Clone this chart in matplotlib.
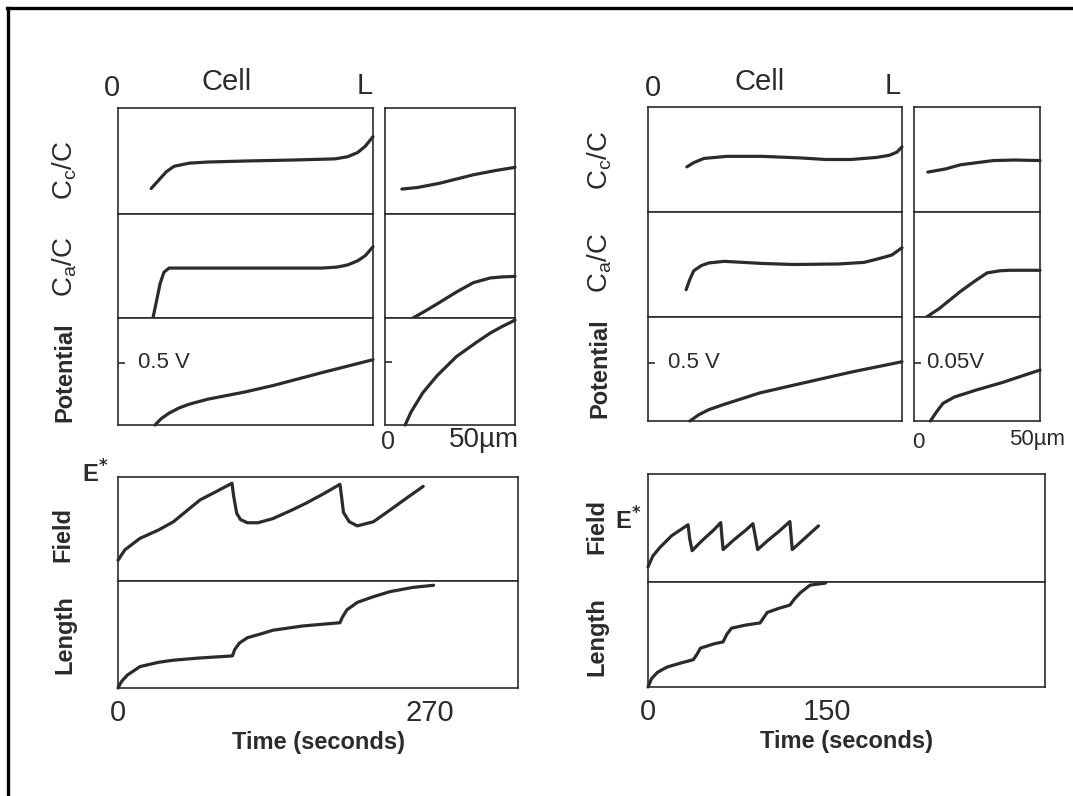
import matplotlib
matplotlib.use("Agg")
import matplotlib.pyplot as plt
from matplotlib.lines import Line2D

plt.rcParams['font.family'] = ['Liberation Sans', 'DejaVu Sans']

W, H = 1073, 796
INK = '#2b2b2b'

# ---- concentration / potential profiles across the cell (x = position / L) ----
cc_left_x = [0.13, 0.16, 0.19, 0.22, 0.28, 0.35, 0.5, 0.7, 0.85, 0.9, 0.94, 0.97, 1.0]
cc_left_y = [0.24, 0.32, 0.40, 0.45, 0.48, 0.49, 0.50, 0.51, 0.52, 0.54, 0.58, 0.64, 0.73]
ca_left_x = [0.137, 0.15, 0.165, 0.18, 0.2, 0.25, 0.5, 0.8, 0.86, 0.9, 0.94, 0.97, 1.0]
ca_left_y = [0.0, 0.15, 0.33, 0.44, 0.48, 0.48, 0.48, 0.48, 0.49, 0.51, 0.55, 0.6, 0.685]
pot_left_x = [0.145, 0.17, 0.2, 0.24, 0.28, 0.35, 0.5, 0.61, 0.8, 1.0]
pot_left_v = [0, 0.052, 0.095, 0.138, 0.168, 0.207, 0.267, 0.319, 0.422, 0.526]

cc_right_x = [0.153, 0.18, 0.22, 0.31, 0.45, 0.6, 0.7, 0.8, 0.9, 0.95, 0.98, 1.0]
cc_right_y = [0.43, 0.47, 0.51, 0.53, 0.53, 0.515, 0.50, 0.50, 0.52, 0.54, 0.57, 0.62]
ca_right_x = [0.15, 0.165, 0.18, 0.21, 0.24, 0.3, 0.45, 0.57, 0.75, 0.85, 0.9, 0.96, 1.0]
ca_right_y = [0.26, 0.36, 0.44, 0.49, 0.515, 0.53, 0.51, 0.50, 0.505, 0.52, 0.55, 0.59, 0.66]
pot_right_x = [0.165, 0.2, 0.24, 0.3, 0.44, 0.6, 0.8, 1.0]
pot_right_v = [0, 0.054, 0.098, 0.143, 0.241, 0.321, 0.42, 0.509]

# ---- zoom near the tip (x in micrometres) ----
cc_sl_x = [6.5, 12.5, 21, 27.5, 34, 42.5, 50]
cc_sl_y = [0.235, 0.25, 0.29, 0.33, 0.37, 0.41, 0.44]
ca_sl_x = [10.75, 15, 21, 27.5, 34, 40.5, 45, 50]
ca_sl_y = [0, 0.06, 0.15, 0.25, 0.34, 0.385, 0.395, 0.4]
pot_sl_x = [7.75, 10, 14.5, 20, 27.5, 35, 40.5, 45, 50]
pot_sl_v = [0, 0.0102, 0.0254, 0.039, 0.0542, 0.0652, 0.0728, 0.0779, 0.083]

cc_sr_x = [5.5, 12.5, 18.5, 25, 31.5, 40, 50]
cc_sr_y = [0.38, 0.41, 0.45, 0.47, 0.49, 0.495, 0.49]
ca_sr_x = [5, 10, 18.25, 24, 29, 34, 38, 44, 50]
ca_sr_y = [0, 0.08, 0.24, 0.34, 0.42, 0.44, 0.445, 0.445, 0.445]
pot_sr_x = [6.5, 9, 11.5, 16, 25, 35, 42.5, 50]
pot_sr_v = [0, 0.008, 0.0151, 0.0205, 0.0267, 0.0329, 0.0383, 0.0436]

# ---- field and length versus time ----
field_l_t = [0, 6, 19, 35, 48, 60, 71, 85, 98.6, 100, 102.7, 106, 112, 121, 134, 150,
             163, 178, 192, 193.5, 195, 200, 207, 221, 235, 250, 264]
field_l_y = [0.2, 0.3, 0.41, 0.49, 0.57, 0.68, 0.78, 0.86, 0.94, 0.82, 0.65, 0.59, 0.56,
             0.56, 0.6, 0.68, 0.75, 0.84, 0.93, 0.80, 0.66, 0.57, 0.53, 0.57, 0.68, 0.8, 0.91]
length_l_t = [0, 3, 8, 19, 35, 48, 70, 99, 101, 105, 112, 125, 134, 160, 192, 194, 198,
              207, 220, 235, 255, 273]
length_l_y = [0, 0.06, 0.12, 0.2, 0.24, 0.26, 0.28, 0.3, 0.36, 0.42, 0.47, 0.51, 0.54,
              0.58, 0.61, 0.66, 0.73, 0.8, 0.85, 0.9, 0.94, 0.96]

field_r_t = [0, 4, 10, 20, 33.6, 35, 37, 45, 55, 61, 62, 63, 72, 82, 88, 90, 92, 100,
             110, 119, 120, 121, 130, 143]
field_r_y = [0.14, 0.24, 0.32, 0.43, 0.53, 0.40, 0.29, 0.38, 0.48, 0.55, 0.42, 0.30,
             0.39, 0.48, 0.54, 0.42, 0.30, 0.38, 0.47, 0.56, 0.43, 0.30, 0.39, 0.52]
length_r_t = [0, 3, 8, 16, 28, 38, 41, 44, 55, 63, 66, 70, 82, 94, 97, 100, 110, 119,
              123, 128, 136, 149]
length_r_y = [0, 0.08, 0.14, 0.19, 0.23, 0.26, 0.31, 0.37, 0.41, 0.43, 0.5, 0.56, 0.59,
              0.61, 0.66, 0.71, 0.75, 0.78, 0.84, 0.9, 0.97, 0.99]


fig = plt.figure(figsize=(W / 100, H / 100), dpi=100)


def px_axes(x0, y0, x1, y1):
    ax = fig.add_axes([x0 / W, 1 - y1 / H, (x1 - x0) / W, (y1 - y0) / H])
    for s in ax.spines.values():
        s.set_linewidth(1.2)
        s.set_color(INK)
    ax.set_xticks([])
    ax.set_yticks([])
    return ax


def curve(ax, x, y):
    ax.plot(x, y, color=INK, lw=2.3, solid_capstyle='round', solid_joinstyle='round',
            clip_on=False)


def ftext(x, y, s, **kw):
    fig.text(x / W, 1 - y / H, s, ha='center', va='center', color=INK, **kw)


def volt_tick(ax, v):
    ax.set_yticks([v])
    ax.set_yticklabels([])
    ax.tick_params(axis='y', direction='in', length=5, width=1.2, color=INK)


def profile_group(x0, x1, xs0, xs1, rows, main, small, vmax, svmax, vlabel, svlabel):
    for i, (ya, yb) in enumerate(rows):
        ax = px_axes(x0, ya, x1, yb)
        axs = px_axes(xs0, ya, xs1, yb)
        ax.set_xlim(0, 1)
        axs.set_xlim(0, 50)
        if i < 2:
            ax.set_ylim(0, 1)
            axs.set_ylim(0, 1)
        else:
            ax.set_ylim(0, vmax)
            axs.set_ylim(0, svmax)
            volt_tick(ax, 0.5)
            volt_tick(axs, 0.05)
            ax.text(0.08, 0.5, vlabel, transform=ax.get_yaxis_transform(),
                    ha='left', va='center', fontsize=16, color=INK)
            if svlabel:
                axs.text(0.1, 0.05, svlabel, transform=axs.get_yaxis_transform(),
                         ha='left', va='center', fontsize=16, color=INK)
        curve(ax, *main[i])
        curve(axs, *small[i])


# left group
profile_group(118, 373, 385, 515, [(108, 214), (214, 318), (318, 425)],
              [(cc_left_x, cc_left_y), (ca_left_x, ca_left_y), (pot_left_x, pot_left_v)],
              [(cc_sl_x, cc_sl_y), (ca_sl_x, ca_sl_y), (pot_sl_x, pot_sl_v)],
              0.862, 0.0847, '0.5 V', None)
# right group
profile_group(648, 902, 914, 1040, [(107, 212), (212, 317), (317, 421)],
              [(cc_right_x, cc_right_y), (ca_right_x, ca_right_y), (pot_right_x, pot_right_v)],
              [(cc_sr_x, cc_sr_y), (ca_sr_x, ca_sr_y), (pot_sr_x, pot_sr_v)],
              0.893, 0.089, '0.5 V', '0.05V')

# time panels
def time_group(x0, x1, yt, ym, yb, tmax, tlabel, field, length):
    axf = px_axes(x0, yt, x1, ym)
    axl = px_axes(x0, ym, x1, yb)
    for a in (axf, axl):
        a.set_xlim(0, tmax)
        a.set_ylim(0, 1)
    curve(axf, *field)
    curve(axl, *length)
    axl.set_xticks([0, tlabel])
    axl.set_xticklabels(['0', str(tlabel)], fontsize=21, color=INK)
    axl.tick_params(axis='x', length=0, pad=8)
    axl.set_xlabel('Time (seconds)', fontsize=17, fontweight='bold', color=INK, labelpad=3)


time_group(118, 518, 477, 581, 688, 346, 270, (field_l_t, field_l_y), (length_l_t, length_l_y))
time_group(648, 1045, 474, 582, 687, 333, 150, (field_r_t, field_r_y), (length_r_t, length_r_y))

# header labels
for x0, xc, xl in [(112, 227, 365), (653, 760, 893)]:
    ftext(x0, 88, '0', fontsize=21)
    ftext(xc, 82, 'Cell', fontsize=21)
    ftext(xl, 86, 'L', fontsize=21)

# row labels
for x, ys in [(65, (170, 267, 372)), (600, (160, 263, 368))]:
    ftext(x, ys[0], r'C$_\mathregular{c}$/C', fontsize=20, rotation=90)
    ftext(x, ys[1], r'C$_\mathregular{a}$/C', fontsize=20, rotation=90)
    ftext(x, ys[2], 'Potential', fontsize=17, fontweight='bold', rotation=90)

ftext(63, 535, 'Field', fontsize=17, fontweight='bold', rotation=90)
ftext(65, 635, 'Length', fontsize=17, fontweight='bold', rotation=90)
ftext(597, 527, 'Field', fontsize=17, fontweight='bold', rotation=90)
ftext(597, 637, 'Length', fontsize=17, fontweight='bold', rotation=90)
ftext(95, 474, r'E$^\mathbf{*}$', fontsize=17, fontweight='bold')
ftext(628, 521, r'E$^\mathbf{*}$', fontsize=17, fontweight='bold')

# micrometre scale under the tip panels
ftext(388, 442, '0', fontsize=18)
ftext(484, 440, '50µm', fontsize=20)
ftext(918, 443, '0', fontsize=16)
ftext(1037, 440, '50µm', fontsize=16)

# page frame (top and left edges)
fig.add_artist(Line2D([7 / W, 1], [1 - 8 / H, 1 - 8 / H], color='black', lw=2.4,
                      transform=fig.transFigure))
fig.add_artist(Line2D([8 / W, 8 / W], [1 - 8 / H, 0], color='black', lw=2.4,
                      transform=fig.transFigure))

fig.savefig('out.png', dpi=100)
